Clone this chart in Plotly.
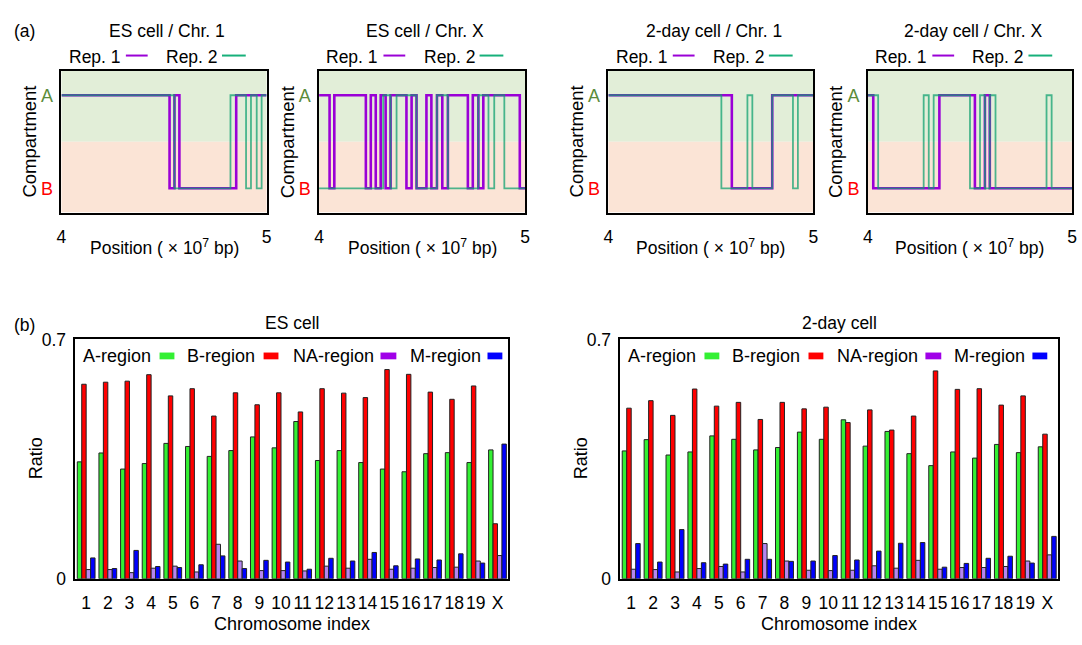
import plotly.graph_objects as go

W, H = 1082, 645

# ---------------- data: compartment tracks (position in 1e7 bp, state) ----------------
es_chr1_rep1_pos = [4.0, 4.527, 4.551, 4.575, 4.852, 5.0]
es_chr1_rep1_st = ["A", "B", "A", "B", "A", "A"]
es_chr1_rep2_pos = [4.0, 4.551, 4.824, 4.900, 4.924, 4.952, 4.976, 5.0]
es_chr1_rep2_st = ["A", "B", "A", "B", "A", "B", "A", "A"]

es_chrx_rep1_pos = [4.0, 4.051, 4.074, 4.227, 4.251, 4.275, 4.299, 4.323, 4.347, 4.424, 4.449, 4.473,
                    4.521, 4.545, 4.572, 4.598, 4.625, 4.722, 4.746, 4.773, 4.797, 4.974, 5.0]
es_chrx_rep1_st = ["A", "B", "A", "B", "A", "B", "A", "B", "A", "B", "A", "B",
                   "A", "B", "A", "B", "A", "B", "A", "B", "A", "B", "B"]
es_chrx_rep2_pos = [4.0, 4.311, 4.347, 4.376, 4.473, 4.572, 4.625, 4.773, 4.822, 4.850, 4.899, 4.923, 5.0]
es_chrx_rep2_st = ["B", "A", "B", "A", "B", "A", "B", "A", "B", "A", "B", "B", "B"]

d2_chr1_rep1_pos = [4.0, 4.602, 4.799, 5.0]
d2_chr1_rep1_st = ["A", "B", "A", "A"]
d2_chr1_rep2_pos = [4.0, 4.551, 4.678, 4.702, 4.799, 4.900, 4.924, 5.0]
d2_chr1_rep2_st = ["A", "B", "A", "B", "A", "B", "A", "A"]

d2_chrx_rep1_pos = [4.0, 4.026, 4.350, 4.524, 4.573, 4.597, 5.0]
d2_chrx_rep1_st = ["A", "B", "A", "B", "A", "B", "B"]
d2_chrx_rep2_pos = [4.0, 4.050, 4.273, 4.298, 4.322, 4.500, 4.549, 4.573, 4.597, 4.625, 4.875, 4.900, 5.0]
d2_chrx_rep2_st = ["A", "B", "A", "B", "A", "B", "A", "B", "A", "B", "A", "B", "B"]

top_titles = ["ES cell / Chr. 1", "ES cell / Chr. X", "2-day cell / Chr. 1", "2-day cell / Chr. X"]

# ---------------- data: region ratios ----------------
chromosomes = [str(i) for i in range(1, 20)] + ["X"]
es_A = [0.342, 0.368, 0.321, 0.337, 0.396, 0.387, 0.358, 0.375, 0.415, 0.383,
        0.460, 0.346, 0.375, 0.340, 0.321, 0.313, 0.366, 0.369, 0.340, 0.377]
es_B = [0.569, 0.575, 0.578, 0.597, 0.535, 0.556, 0.476, 0.544, 0.509, 0.544,
        0.488, 0.556, 0.543, 0.530, 0.612, 0.598, 0.546, 0.525, 0.564, 0.161]
es_NA = [0.027, 0.027, 0.018, 0.031, 0.037, 0.020, 0.101, 0.052, 0.024, 0.024,
         0.023, 0.037, 0.031, 0.057, 0.028, 0.031, 0.033, 0.034, 0.052, 0.068]
es_M = [0.061, 0.030, 0.083, 0.036, 0.033, 0.041, 0.067, 0.030, 0.054, 0.049,
        0.028, 0.060, 0.052, 0.077, 0.038, 0.058, 0.055, 0.073, 0.046, 0.394]

d2_A = [0.374, 0.407, 0.362, 0.371, 0.418, 0.408, 0.377, 0.384, 0.429, 0.408,
        0.465, 0.388, 0.431, 0.366, 0.331, 0.371, 0.353, 0.393, 0.369, 0.386]
d2_B = [0.499, 0.521, 0.478, 0.555, 0.505, 0.516, 0.466, 0.516, 0.497, 0.502,
        0.457, 0.494, 0.435, 0.476, 0.608, 0.554, 0.556, 0.508, 0.535, 0.423]
d2_NA = [0.028, 0.027, 0.020, 0.030, 0.036, 0.020, 0.103, 0.052, 0.025, 0.024,
         0.025, 0.038, 0.031, 0.054, 0.028, 0.033, 0.033, 0.036, 0.052, 0.070]
d2_M = [0.103, 0.049, 0.144, 0.047, 0.043, 0.057, 0.057, 0.051, 0.052, 0.068,
        0.055, 0.081, 0.104, 0.106, 0.034, 0.045, 0.060, 0.066, 0.046, 0.124]

region_names = ["A-region", "B-region", "NA-region", "M-region"]
bottom_titles = ["ES cell", "2-day cell"]

# ---------------- styling ----------------
FONT = "Liberation Sans, Arial, sans-serif"
FS = 17.5
PURPLE = "#9a00d6"
TEAL = "rgba(10,160,110,0.72)"
TEAL_SOLID = "#17b07a"
BAR_COLORS = ["#33f033", "#ff0000", "#b586f0", "#0000ff"]
SWATCH_COLORS = ["#33f033", "#ff0000", "#a000e8", "#0000ff"]
STATE_VAL = {"A": 1, "B": 0}

def fx(p):
    return p / W

def fy(p):
    return 1 - p / H

def text(t, x, y, xanchor="center", angle=0, size=FS):
    return dict(text=t, x=fx(x), y=fy(y), xref="paper", yref="paper", showarrow=False,
                xanchor=xanchor, yanchor="middle", textangle=angle, font=dict(size=size))

top_boxes = [(57, 264), (317, 525), (609, 816), (871, 1077)]
top_y = (63, 209)
bot_boxes = [(71, 508), (621, 1063)]
bot_y = (340, 587)

tracks = [
    (es_chr1_rep1_pos, es_chr1_rep1_st, es_chr1_rep2_pos, es_chr1_rep2_st),
    (es_chrx_rep1_pos, es_chrx_rep1_st, es_chrx_rep2_pos, es_chrx_rep2_st),
    (d2_chr1_rep1_pos, d2_chr1_rep1_st, d2_chr1_rep2_pos, d2_chr1_rep2_st),
    (d2_chrx_rep1_pos, d2_chrx_rep1_st, d2_chrx_rep2_pos, d2_chrx_rep2_st),
]

fig = go.Figure()
shapes = []
annotations = []
layout = dict(width=W, height=H, margin=dict(l=0, r=0, t=0, b=0, pad=0),
              paper_bgcolor="white", plot_bgcolor="white", showlegend=False,
              font=dict(family=FONT, size=FS, color="black"), barmode="group",
              bargap=0.18, bargroupgap=0.0)

for i, (box, tr) in enumerate(zip(top_boxes, tracks)):
    n = i + 1
    xa = "x" if n == 1 else f"x{n}"
    ya = "y" if n == 1 else f"y{n}"
    p1, s1, p2, s2 = tr
    fig.add_trace(go.Scatter(x=p1, y=[STATE_VAL[s] for s in s1], mode="lines", line_shape="hv",
                             line=dict(color=PURPLE, width=2.6), xaxis=xa, yaxis=ya, hoverinfo="skip"))
    fig.add_trace(go.Scatter(x=p2, y=[STATE_VAL[s] for s in s2], mode="lines", line_shape="hv",
                             line=dict(color=TEAL, width=1.8), xaxis=xa, yaxis=ya, hoverinfo="skip"))
    layout[f"xaxis{'' if n == 1 else n}"] = dict(
        domain=[fx(box[0]), fx(box[1])], anchor=ya, range=[4, 5], tickvals=[4, 5], ticktext=["4", "5"],
        showline=True, mirror=True, linecolor="black", linewidth=1.5, showgrid=False, zeroline=False,
        ticks="outside", ticklen=8, tickcolor="rgba(0,0,0,0)", tickfont=dict(size=17.5))
    layout[f"yaxis{'' if n == 1 else n}"] = dict(
        domain=[fy(top_y[1]), fy(top_y[0])], anchor=xa, range=[-0.26, 1.26], tickvals=[0, 1],
        ticktext=["<span style='color:#ff0000'>B</span>", "<span style='color:#5b8c3a'>A</span>"],
        showline=True, mirror=True, linecolor="black", linewidth=1.5, showgrid=False, zeroline=False,
        ticks="outside", ticklen=3, tickcolor="rgba(0,0,0,0)", tickfont=dict(size=18))
    xd = f"{xa} domain"
    shapes.append(dict(type="rect", xref=xd, yref=ya, x0=0, x1=1, y0=0.5, y1=1.26,
                       fillcolor="#e2eed8", line_width=0, layer="below"))
    shapes.append(dict(type="rect", xref=xd, yref=ya, x0=0, x1=1, y0=-0.26, y1=0.5,
                       fillcolor="#fbe4d6", line_width=0, layer="below"))
    cx = (box[0] + box[1]) / 2
    annotations.append(text(top_titles[i], cx + 3, 22))
    annotations.append(text("Compartment", box[0] - 32, 136, angle=-90, size=18.5))
    annotations.append(text("Position ( \u00d7 10<sup>7</sup> bp)", cx, 245))
    # legend
    for lab, end_off, l0, l1, col in [("Rep. 1", 62, 65, 87, PURPLE), ("Rep. 2", 160, 162, 186, TEAL_SOLID)]:
        annotations.append(text(lab, box[0] + end_off, 48, xanchor="right"))
        shapes.append(dict(type="line", xref="paper", yref="paper", x0=fx(box[0] + l0), x1=fx(box[0] + l1),
                           y0=fy(47), y1=fy(47), line=dict(color=col, width=2)))

annotations.append(text("(a)", 20, 22))
annotations.append(text("(b)", 20, 325))

bar_sets = [(es_A, es_B, es_NA, es_M), (d2_A, d2_B, d2_NA, d2_M)]
for j, (box, vals) in enumerate(zip(bot_boxes, bar_sets)):
    n = 5 + j
    xa, ya = f"x{n}", f"y{n}"
    for k, v in enumerate(vals):
        fig.add_trace(go.Bar(x=chromosomes, y=v, marker=dict(color=BAR_COLORS[k],
                             line=dict(color="#222222", width=1)), xaxis=xa, yaxis=ya,
                             offsetgroup=str(k), hoverinfo="skip"))
    layout[f"xaxis{n}"] = dict(domain=[fx(box[0]), fx(box[1])], anchor=ya, type="category",
                               categoryorder="array", categoryarray=chromosomes,
                               range=[-0.5, len(chromosomes) - 0.5],
                               showline=True, mirror=True, linecolor="black", linewidth=1.5,
                               showgrid=False, zeroline=False, ticks="outside", ticklen=7,
                               tickcolor="rgba(0,0,0,0)", tickfont=dict(size=17.5))
    layout[f"yaxis{n}"] = dict(domain=[fy(bot_y[1]), fy(bot_y[0])], anchor=xa, range=[0, 0.7],
                               tickvals=[0, 0.7], ticktext=["0", "0.7"],
                               showline=True, mirror=True, linecolor="black", linewidth=1.5,
                               showgrid=False, zeroline=False, ticks="outside", ticklen=4,
                               tickcolor="rgba(0,0,0,0)", tickfont=dict(size=17.5))
    cx = (box[0] + box[1]) / 2
    annotations.append(text(bottom_titles[j], cx, 323))
    annotations.append(text("Ratio", box[0] - 40, 463, angle=-90, size=18))
    annotations.append(text("Chromosome index", cx, 634, size=18))
    for k, (name, end_off, s0, s1) in enumerate(zip(region_names, [78, 183, 303, 411],
                                                    [85, 190, 308, 416], [100, 205, 324, 431])):
        annotations.append(text(name, box[0] + end_off, 357, xanchor="right", size=18))
        shapes.append(dict(type="rect", xref="paper", yref="paper", x0=fx(box[0] + s0), x1=fx(box[0] + s1),
                           y0=fy(360.5), y1=fy(353.5), fillcolor=SWATCH_COLORS[k], line_width=0))

layout["shapes"] = shapes
layout["annotations"] = annotations
fig.update_layout(**layout)

post = (
    "document.body.style.margin='0';document.body.style.overflow='hidden';"
    "var d=document.getElementById('{plot_id}');d.style.position='fixed';d.style.top='0px';d.style.left='0px';"
)
fig.write_html("out.html", config={"displayModeBar": False}, post_script=post)
